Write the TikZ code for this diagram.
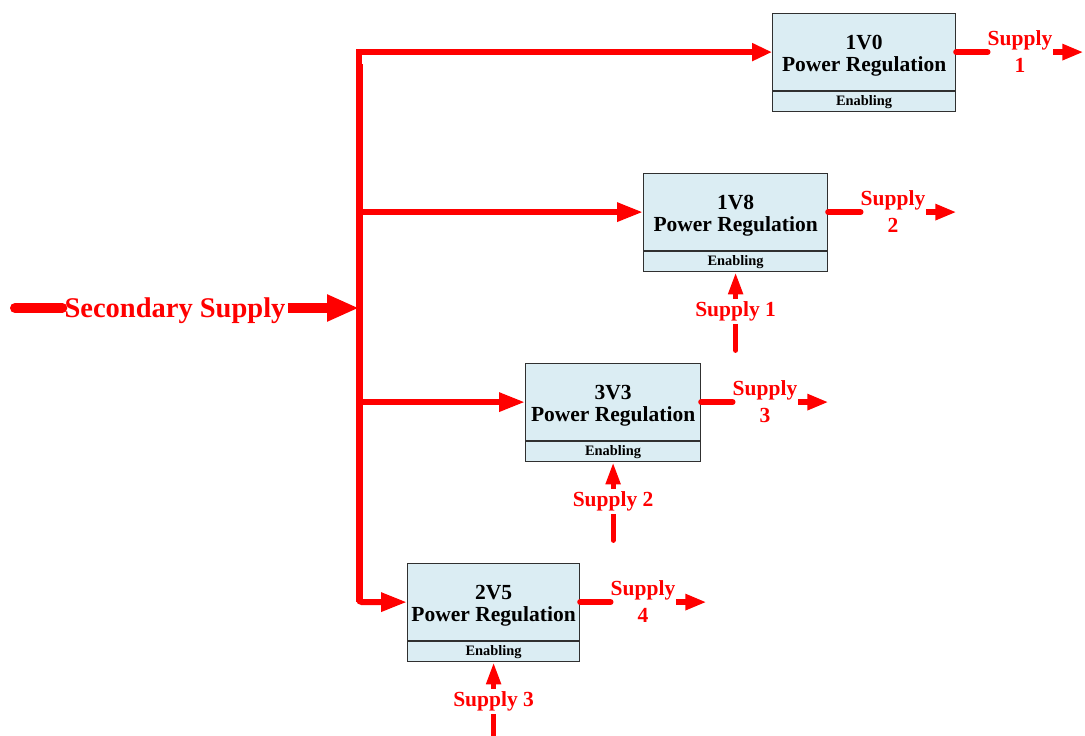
\documentclass[tikz,border=0pt]{standalone}
\usepackage{fontspec}
\setmainfont{Liberation Serif}
\usetikzlibrary{arrows.meta,positioning,calc}
\definecolor{boxfill}{HTML}{DBEDF3}
\definecolor{boxline}{HTML}{303030}
\definecolor{pred}{HTML}{FF0000}
\begin{document}
\begin{tikzpicture}[x=1pt,y=-1pt,
  mainbox/.style={draw=boxline,line width=1.2pt,fill=boxfill,anchor=north west,minimum height=77pt,inner sep=0pt},
  boxtext/.style={inner sep=0pt,align=center,font=\bfseries\fontsize{21.5}{21.5}\selectfont},
  enabbox/.style={draw=boxline,line width=1.2pt,fill=boxfill,anchor=north west,minimum height=20pt,inner sep=0pt,font=\bfseries\fontsize{14.4}{15}\selectfont},
  redlab/.style={text=pred,font=\bfseries\fontsize{21.5}{27}\selectfont,align=center,inner sep=0pt},
  busline/.style={draw=pred,line width=7pt},
  branch/.style={draw=pred,line width=6pt,-{Triangle[length=26pt,width=18pt]}},
  outline/.style={draw=pred,line width=6pt,line cap=round},
  outarrow/.style={draw=pred,line width=6pt,-{Triangle[length=21pt,width=15pt]}},
  enarrow/.style={draw=pred,line width=5pt,line cap=round,-{Triangle[length=22pt,width=14pt]}},
  enlab/.style={text=pred,font=\bfseries\fontsize{21.5}{22}\selectfont,fill=white,inner sep=3pt},
]
\useasboundingbox (0,0) rectangle (1085,736);

% boxes
\node[mainbox,minimum width=183pt] (b1) at (772,13) {};
\node[enabbox,minimum width=183pt] (e1) at (b1.south west) {Enabling};
\node[mainbox,minimum width=184pt] (b2) at (643,173) {};
\node[enabbox,minimum width=184pt] (e2) at (b2.south west) {Enabling};
\node[mainbox,minimum width=175pt] (b3) at (525,363) {};
\node[enabbox,minimum width=175pt] (e3) at (b3.south west) {Enabling};
\node[mainbox,minimum width=172pt] (b4) at (407,563) {};
\node[enabbox,minimum width=172pt] (e4) at (b4.south west) {Enabling};
\node[boxtext] (t1) at ($(b1.center)+(0,3.5)$) {1V0\\Power Regulation};
\node[boxtext] (t2) at ($(b2.center)+(0,3.5)$) {1V8\\Power Regulation};
\node[boxtext] (t3) at ($(b3.center)+(0,3.5)$) {3V3\\Power Regulation};
\node[boxtext] (t4) at ($(b4.center)+(0,3.5)$) {2V5\\Power Regulation};

% secondary supply
\coordinate (busx) at (359,0);
\coordinate (ssl) at (15,308);
\node[text=pred,font=\bfseries\fontsize{28.5}{30}\selectfont,inner sep=2pt] (ss) at (175,311) {Secondary Supply};
\draw[draw=pred,line width=10pt,line cap=round] (ssl) -- (ss.west |- ssl);
\draw[draw=pred,line width=10pt,-{Triangle[length=32pt,width=25pt]}] (ss.east |- ssl) -- (ssl -| busx);

% bus
\draw[busline] (b4.west -| busx) -- ($(b1.west -| busx)+(0,12)$);
\draw[draw=pred,line width=6pt,-{Triangle[length=20pt,width=17pt]}] ($(b1.west -| busx)+(0,14)$) -- (b1.west -| busx) -- (b1.west);
\draw[branch] (b2.west -| busx) -- (b2.west);
\draw[branch] (b3.west -| busx) -- (b3.west);
\draw[branch,rounded corners=3pt] ($(b4.west -| busx)+(0,-2)$) -- (b4.west -| busx) -- (b4.west);

% outputs
\node[redlab] (o1) at (1020,52) {Supply\\1};
\node[redlab] (o2) at (893,212) {Supply\\2};
\node[redlab] (o3) at (765,402) {Supply\\3};
\node[redlab] (o4) at (643,602) {Supply\\4};
\foreach \i in {1,2,3,4}{
  \draw[outline] (b\i.east) -- (b\i.east -| o\i.west);
  \draw[outarrow] ($(b\i.east -| o\i.east)+(1,0)$) -- ($(b\i.east -| o\i.east)+(31,0)$);
}

% enabling inputs
\coordinate (s2) at ($(e2.south)+(0,78)$);
\coordinate (s3) at ($(e3.south)+(0,78)$);
\coordinate (s4) at ($(e4.south)+(0,80)$);
\draw[enarrow] (s2) -- node[enlab] (l2) {Supply 1} (e2.south);
\draw[enarrow] (s3) -- node[enlab] (l3) {Supply 2} (e3.south);
\draw[enarrow] (s4) -- node[enlab,pos=0.51] (l4) {Supply 3} (e4.south);
\end{tikzpicture}
\end{document}
